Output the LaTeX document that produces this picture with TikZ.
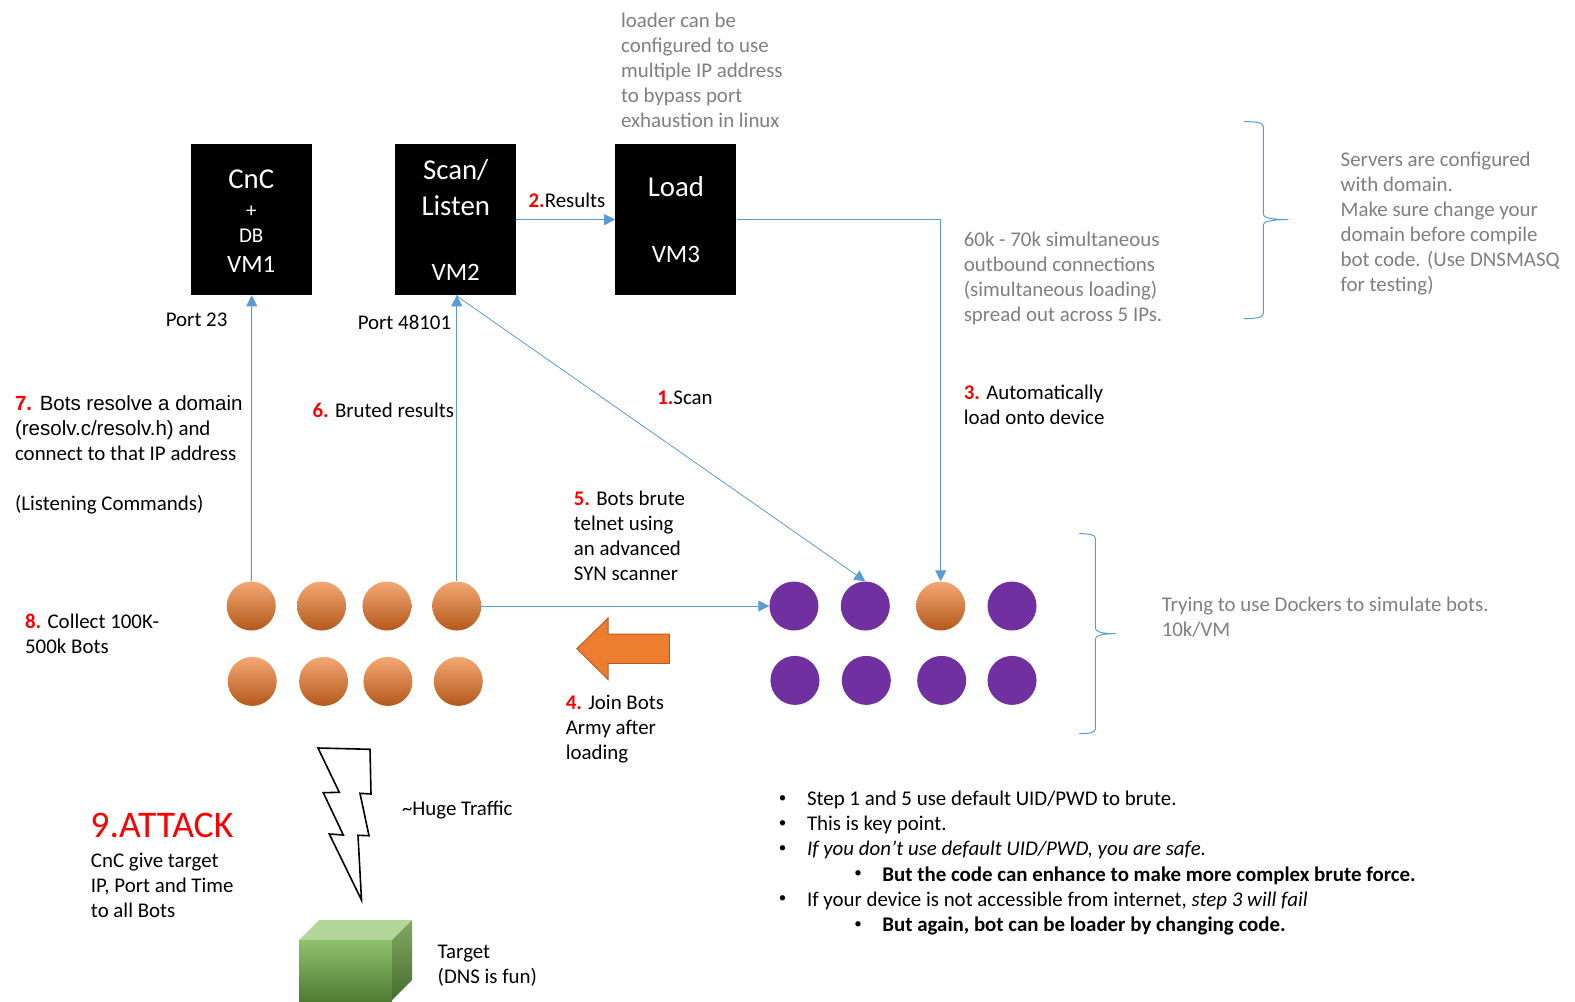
\documentclass[tikz,border=0pt]{standalone}
\usepackage{fontspec}
\setmainfont{Carlito}
\newfontfamily\arialf{Liberation Sans}
\usetikzlibrary{arrows.meta,shapes.geometric}
\definecolor{blu}{HTML}{5B9BD5}
\definecolor{gry}{HTML}{7F7F7F}
\definecolor{org}{HTML}{ED7D31}
\definecolor{orgt}{HTML}{F4A873}
\definecolor{orgb}{HTML}{B4581C}
\definecolor{pur}{HTML}{7030A0}
\definecolor{gtop}{HTML}{B3D69B}
\definecolor{gft}{HTML}{8EC26E}
\definecolor{gfm}{HTML}{70AD47}
\definecolor{gfb}{HTML}{4E7A32}
\definecolor{gst}{HTML}{82A864}
\definecolor{gsb}{HTML}{466E2D}
\newcommand{\rd}[1]{\textcolor{red}{\textbf{#1}}}
\newcommand{\bul}{\fontsize{15}{25}\selectfont •}
\tikzset{
  txt/.style={anchor=north west,inner sep=0pt,outer sep=0pt,align=left,yshift=14pt,
    font=\fontsize{20.9}{25}\selectfont,text=black},
  gtxt/.style={txt,text=gry},
  vm/.style={draw=none,fill=black,minimum width=121pt,minimum height=151pt,inner sep=0pt},
  wht/.style={text=white,inner sep=0pt,font=\fontsize{28.8}{28.8}\selectfont},
  wvm/.style={text=white,inner sep=0pt,font=\fontsize{25}{25}\selectfont},
  whs/.style={text=white,inner sep=0pt,font=\fontsize{21}{21}\selectfont},
  conn/.style={draw=blu,line width=1pt,-{Triangle[length=11pt,width=11pt]}},
  brc/.style={draw=blu,line width=1pt},
  orb/.style={circle,minimum size=49pt,inner sep=0pt,top color=orgt,middle color=org,bottom color=orgb},
  prb/.style={circle,minimum size=49pt,inner sep=0pt,fill=pur}
}
\begin{document}
\begin{tikzpicture}[x=1.005pt,y=-1.005pt]
\path[use as bounding box] (0,0) rectangle (1567.16,997);
\node[vm] (cnc) at (250.5,218.5) {};
\node[vm] (scan) at (453.5,218.5) {};
\node[vm] (load) at (672.5,218.5) {};
\node[wht] (t1) at (250,178) {CnC};
\node[whs] (t2) at (250,211) {+};
\node[whs] (t3) at (250,235) {DB};
\node[wvm] (t4) at (250,263) {VM1};
\node[wht] (t5) at (453.5,169) {Scan/};
\node[wht] (t6) at (453.5,204.5) {Listen};
\node[wvm] (t7) at (453.5,271) {VM2};
\node[wht] (t8) at (672.5,186) {Load};
\node[wvm] (t9) at (672.5,253) {VM3};
% orange bots
\foreach \n/\x/\y in {o1/250/603,o2/320/603,o3/385/603,o4/454.5/603,o5/251/678,o6/322/678,o7/386/678,o8/456/678,o9/936/603}
  \node[orb] (\n) at (\x,\y) {};
\foreach \n/\x/\y in {p1/790/603,p2/861/603,p3/1007/603,p4/791/677,p5/862/677,p6/937/677,p7/1007/677}
  \node[prb] (\n) at (\x,\y) {};
% connectors
\draw[conn] (scan) -- (load);
\draw[conn] (load.east |- scan) -| (o9.north);
\draw[conn,line width=.8pt] (scan.south) -- (p2.north);
\draw[conn] (o4.north) -- (o4.north |- scan.south);
\draw[conn] (o1.north) -- (cnc.south);
\draw[conn] (o4.east) -- (p1.west);
% braces
\draw[brc] (1238,121) .. controls (1250,121) and (1257,122) .. (1257,126) -- (1257,213) .. controls (1257,216) and (1262,218.5) .. (1282,218.5) .. controls (1262,218.5) and (1257,221) .. (1257,224) -- (1257,312) .. controls (1257,316) and (1250,317) .. (1238,317);
\draw[brc] (1074,531) .. controls (1084,531) and (1090,532) .. (1090,536) -- (1090,625) .. controls (1090,628) and (1094,630.5) .. (1110,630.5) .. controls (1094,630.5) and (1090,633) .. (1090,636) -- (1090,725) .. controls (1090,729) and (1084,730) .. (1074,730);
% block arrow
\draw[draw=org!75!black,fill=org,line width=1pt] (574,645.5) -- (605,615) -- (605,631) -- (666,631) -- (666,660) -- (605,660) -- (605,676) -- cycle;
% lightning
\begin{scope}[x=1pt,y=-1pt]
\draw[black,line width=1.6pt,fill=white,miter limit=6] (318,748) -- (370,749.3) -- (371,794) -- (360,793.3) -- (369,835.7) -- (358,835.3) -- (361.5,900) -- (329.3,834) -- (343.3,835) -- (323.3,792.7) -- (339.3,792.3) -- cycle;
\fill[gtop] (299,940) -- (319,920) -- (412,920) -- (392,940) -- cycle;
\shade[top color=gft,middle color=gfm,bottom color=gfb] (299,940) rectangle (392,1002);
\shade[top color=gst,bottom color=gsb] (392,940) -- (412,920) -- (412,980) -- (392,1000) -- cycle;
\end{scope}
% texts
\node[gtxt] (a1) at (618,27) {loader can be\\configured to use\\multiple IP address\\to bypass port\\exhaustion in linux};
\node[gtxt] (a2) at (1334,165.5) {Servers are configured\\with domain.\\Make sure change your\\domain before compile\\bot code. (Use DNSMASQ\\for testing)};
\node[gtxt] (a3) at (959,245) {60k - 70k simultaneous\\outbound connections\\(simultaneous loading)\\spread out across 5 IPs.};
\node[gtxt] (a4) at (1156,607.5) {Trying to use Dockers to simulate bots.\\10k/VM};
\node[txt] (b1) at (526,206) {\rd{2.}Results};
\node[txt] (b2) at (165,325) {Port 23};
\node[txt] (b3) at (356,328) {Port 48101};
\node[txt] (b4) at (654,403) {\rd{1.}Scan};
\node[txt] (b5) at (311,415) {\rd{6.} Bruted results};
\node[txt] (b6) at (959,397) {\rd{3.} Automatically\\load onto device};
\node[txt] (b7) at (15,408) {{\arialf\fontsize{20.5}{25}\selectfont \rd{7.} Bots resolve a domain}\\{\arialf\fontsize{20.5}{25}\selectfont (resolv.c/resolv.h)} and\\connect to that IP address\\\\(Listening Commands)};
\node[txt] (b8) at (571,502.5) {\rd{5.} Bots brute\\telnet using\\an advanced\\SYN scanner};
\node[txt] (b9) at (25,624.5) {\rd{8.} Collect 100K-\\500k Bots};
\node[txt] (b10) at (563,706) {\rd{4.} Join Bots\\Army after\\loading};
\node[txt] (b11) at (400,811) {\textasciitilde Huge Traffic};
\node[txt,text=red,font=\fontsize{37.6}{37.6}\selectfont] (b12) at (90,823) {9.ATTACK};
\node[txt] (b13) at (90.5,863) {CnC give target\\IP, Port and Time\\to all Bots};
\node[txt] (b14) at (435.5,954.5) {Target\\(DNS is fun)};
% bullets
\node[txt] (c1) at (775,805.5) {\bul};
\node[txt] (c2) at (803,801) {Step 1 and 5 use default UID/PWD to brute.};
\node[txt] (c3) at (775,830.5) {\bul};
\node[txt] (c4) at (803,826) {This is key point.};
\node[txt] (c5) at (775,855.5) {\bul};
\node[txt] (c6) at (803,851) {\itshape If you don’t use default UID/PWD, you are safe.};
\node[txt] (c7) at (850,880.5) {\bul};
\node[txt] (c8) at (878,876) {\bfseries But the code can enhance to make more complex brute force.};
\node[txt] (c9) at (775,905.5) {\bul};
\node[txt] (c10) at (803,901) {If your device is not accessible from internet, \textit{step 3 will fail}};
\node[txt] (c11) at (850,930.5) {\bul};
\node[txt] (c12) at (878,926) {\bfseries But again, bot can be loader by changing code.};
\end{tikzpicture}
\end{document}
